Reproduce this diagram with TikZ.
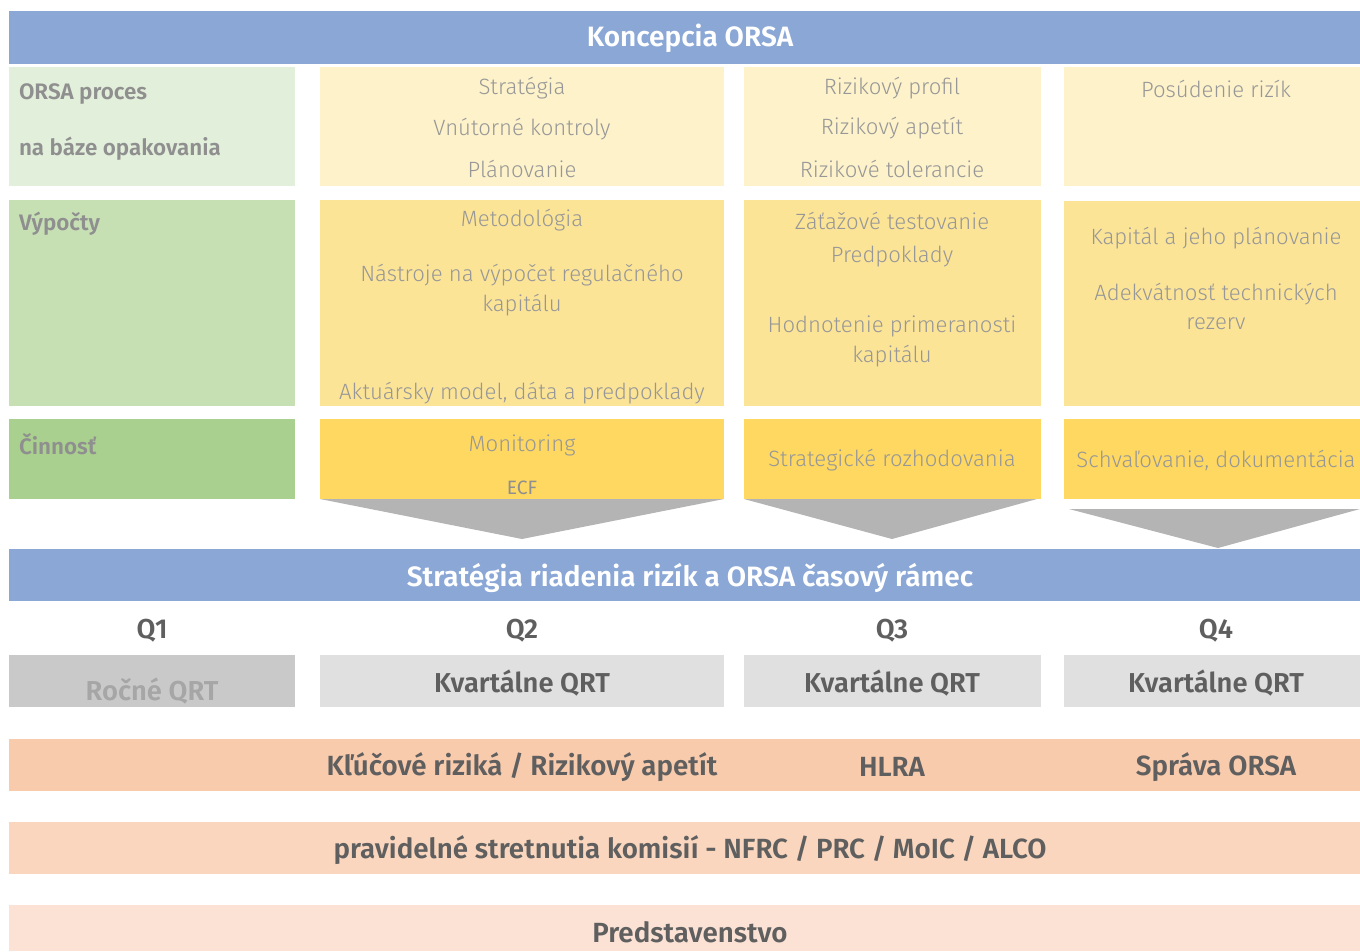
\documentclass[tikz,border=0pt]{standalone}
\usepackage{fontspec}
\setmainfont{Fira Sans}
\newfontfamily\lightf{Fira Sans Light}
\newfontfamily\boldf{Fira Sans SemiBold}
\definecolor{hblue}{HTML}{8AA7D6}
\definecolor{gA}{HTML}{E2EFDA}
\definecolor{gB}{HTML}{C6E0B4}
\definecolor{gC}{HTML}{A9D08E}
\definecolor{yA}{HTML}{FDF2CA}
\definecolor{yB}{HTML}{FCE497}
\definecolor{yC}{HTML}{FED861}
\definecolor{tri}{HTML}{B4B4B4}
\definecolor{qA}{HTML}{C9C9C9}
\definecolor{qB}{HTML}{E0E0E0}
\definecolor{oA}{HTML}{F8CBAD}
\definecolor{oB}{HTML}{F9D6BD}
\definecolor{oC}{HTML}{FBE2D5}
\definecolor{txl}{HTML}{979797}
\definecolor{txb}{HTML}{8F8F8F}
\definecolor{txd}{HTML}{5F5F5F}
\definecolor{txq}{HTML}{A6A6A6}
\begin{document}
\begin{tikzpicture}[x=0.75pt,y=-0.75pt,
  every node/.style={inner sep=0pt, outer sep=0pt, yshift=-1.2pt},
  lt/.style={font=\lightf\fontsize{16.6}{19}\selectfont, text=txl},
  lab/.style={font=\boldf\fontsize{16.8}{19}\selectfont, text=txb, anchor=west},
  hd/.style={font=\boldf\fontsize{21}{24}\selectfont, text=white},
  qd/.style={font=\boldf\fontsize{20.5}{24}\selectfont, text=txd},
  od/.style={font=\boldf\fontsize{20.8}{24}\selectfont, text=txd}]
\useasboundingbox (0,0) rectangle (1360,951);
% header 1
\fill[hblue] (9,11) rectangle (1360,64);
\node[hd] (h1) at (690,37) {Koncepcia ORSA};
% row 1
\fill[gA] (9,67) rectangle (295,186);
\fill[yA] (320,67) rectangle (724,186);
\fill[yA] (744,67) rectangle (1041,186);
\fill[yA] (1064,67) rectangle (1360,186);
\node[lab] (l1a) at (19,92) {ORSA proces};
\node[lab] (l1b) at (19,147) {na báze opakovania};
\node[lt] (a1) at (522,87) {Stratégia};
\node[lt] (a2) at (522,127) {Vnútorné kontroly};
\node[lt] (a3) at (522,167) {Plánovanie};
\node[lt] (b1) at (892,87) {Rizikový profil};
\node[lt] (b2) at (892,127) {Rizikový apetít};
\node[lt] (b3) at (892,167) {Rizikové tolerancie};
\node[lt] (c1) at (1216,87) {Posúdenie rizík};
% row 2
\fill[gB] (9,200) rectangle (295,406);
\fill[yB] (320,200) rectangle (724,406);
\fill[yB] (744,200) rectangle (1041,406);
\fill[yB] (1064,201) rectangle (1360,406);
\node[lab] (l2) at (19,222) {Výpočty};
\node[lt] (d1) at (522,219) {Metodológia};
\node[lt] (d2) at (522,274) {Nástroje na výpočet regulačného};
\node[lt] (d3) at (522,304) {kapitálu};
\node[lt] (d4) at (522,392) {Aktuársky model, dáta a predpoklady};
\node[lt] (e1) at (892,219) {Záťažové testovanie};
\node[lt] (e2) at (892,255) {Predpoklady};
\node[lt] (e3) at (892,325) {Hodnotenie primeranosti};
\node[lt] (e4) at (892,355) {kapitálu};
\node[lt] (f1) at (1216,237) {Kapitál a jeho plánovanie};
\node[lt] (f2) at (1216,292) {Adekvátnosť technických};
\node[lt] (f3) at (1216,322) {rezerv};
% row 3
\fill[gC] (9,419) rectangle (295,499);
\fill[yC] (320,419) rectangle (724,499);
\fill[yC] (744,419) rectangle (1041,499);
\fill[yC] (1064,419) rectangle (1360,499);
\node[lab] (l3) at (19,443) {Činnosť};
\node[lt] (g1) at (522,444) {Monitoring};
\node[font=\fontsize{14.5}{17}\selectfont, text=txb] (g2) at (522,486) {ECF};
\node[lt] (h2) at (892,459) {Strategické rozhodovania};
\node[lt] (i1) at (1216,459) {Schvaľovanie, dokumentácia};
% arrows
\fill[tri] (320,499) -- (724,499) -- (522,539) -- cycle;
\fill[tri] (744,499) -- (1037,499) -- (892,539) -- cycle;
\fill[tri] (1069,509) -- (1360,509) -- (1218,548) -- cycle;
% header 2
\fill[hblue] (9,549) rectangle (1360,601);
\node[hd] (h2t) at (690,576) {Stratégia riadenia rizík a ORSA časový rámec};
% quarters
\node[qd] (q1) at (152,629) {Q1};
\node[qd] (q2) at (522,629) {Q2};
\node[qd] (q3) at (892,629) {Q3};
\node[qd] (q4) at (1216,629) {Q4};
\fill[qA] (9,655) rectangle (295,707);
\fill[qB] (320,655) rectangle (724,707);
\fill[qB] (744,655) rectangle (1041,707);
\fill[qB] (1064,655) rectangle (1360,707);
\node[qd, text=txq] (r1) at (152,689) {Ročné QRT};
\node[qd] (r2) at (522,681) {Kvartálne QRT};
\node[qd] (r3) at (892,681) {Kvartálne QRT};
\node[qd] (r4) at (1216,681) {Kvartálne QRT};
% orange rows
\fill[oA] (9,739) rectangle (1360,791);
\node[od] (s1) at (522,765) {Kľúčové riziká / Rizikový apetít};
\node[od] (s2) at (892,765) {HLRA};
\node[od] (s3) at (1216,765) {Správa ORSA};
\fill[oB] (9,822) rectangle (1360,874);
\node[od] (t1) at (690,848) {pravidelné stretnutia komisií - NFRC / PRC / MoIC / ALCO};
\fill[oC] (9,905) rectangle (1360,951);
\node[od] (u1) at (690,931) {Predstavenstvo};
\end{tikzpicture}
\end{document}
